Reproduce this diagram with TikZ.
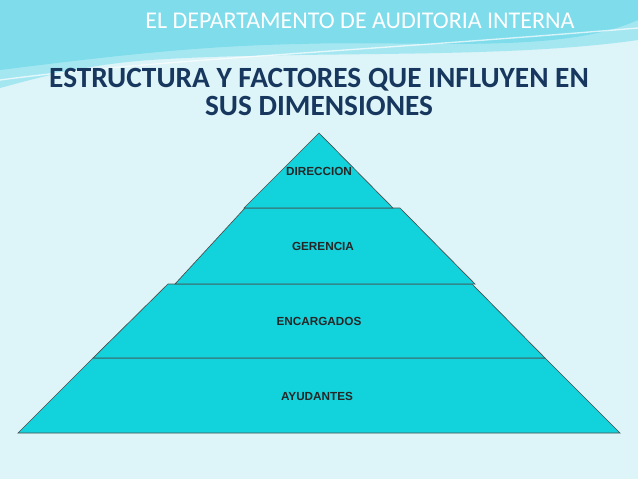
\documentclass[tikz,border=0pt]{standalone}
\usepackage{fontspec}
\setmainfont{Carlito}
\newfontfamily\arialfont{Liberation Sans}
\begin{document}
\begin{tikzpicture}[x=0.75pt, y=-0.75pt,
    tier/.style={fill=tiercol, draw=black!70, line width=0.5pt},
    label/.style={font=\arialfont\bfseries\fontsize{8.8}{10}\selectfont, text=black!85}]
\definecolor{bgcol}{HTML}{DDF4F8}
\definecolor{wavecol}{HTML}{7FDCEB}
\definecolor{tiercol}{HTML}{12D3DC}
\definecolor{navy}{HTML}{17375E}
\useasboundingbox (0,0) rectangle (638,479);
\fill[bgcol] (0,0) rectangle (638,479);

% =====================
% Header waves
% =====================
\fill[wavecol!70] (0,0) -- (638,0) -- (638,40) .. controls (500,60) and (300,50) .. (150,60) .. controls (80,65) and (30,80) .. (0,88) -- cycle;
\fill[wavecol] (0,0) -- (638,0) -- (638,20) .. controls (560,55) and (420,40) .. (300,44) .. controls (200,46) and (120,55) .. (0,70) -- cycle;
\draw[white, line width=1pt, opacity=0.7] (0,80) .. controls (150,60) and (350,52) .. (638,28);

% =====================
% Titles
% =====================
\node[font=\fontsize{18}{22}\selectfont, text=white] (title) at (360,21) {EL DEPARTAMENTO DE AUDITORIA INTERNA};
\node[font=\bfseries\fontsize{22}{21}\selectfont, text=navy, align=center] (subtitle) at (319,92) {ESTRUCTURA Y FACTORES QUE INFLUYEN EN\\SUS DIMENSIONES};

% =====================
% Pyramid tiers (bottom first)
% =====================
\draw[tier] (18,433) -- (93,358) -- (545,358) -- (620,433) -- cycle;
\draw[tier] (93,358) -- (168,284) -- (472,284) -- (545,358) -- cycle;
\draw[tier] (175,284) -- (245,208) -- (400,208) -- (475,284) -- cycle;
\draw[tier] (244,208) -- (319,133) -- (393,208) -- cycle;

\node[label] (direccion) at (319,171) {DIRECCION};
\node[label] (gerencia) at (323,246) {GERENCIA};
\node[label] (encargados) at (319,321) {ENCARGADOS};
\node[label] (ayudantes) at (317,396) {AYUDANTES};
\end{tikzpicture}
\end{document}
